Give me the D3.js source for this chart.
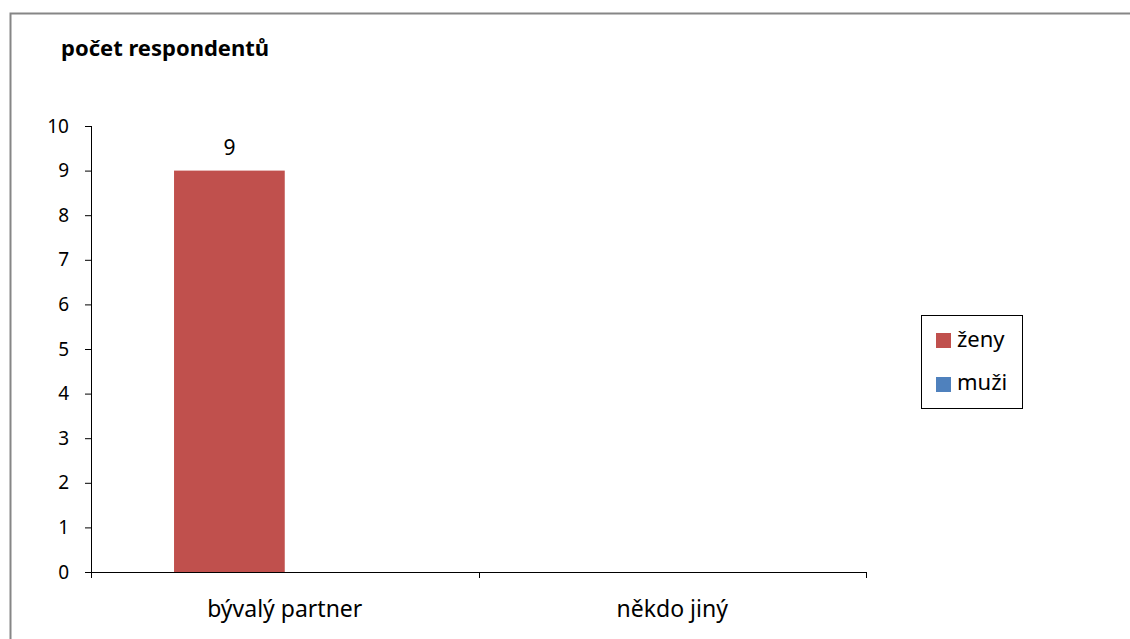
<!DOCTYPE html>
<html><head><meta charset="utf-8">
<script src="https://cdn.jsdelivr.net/npm/d3@7"></script>
<style>body{margin:0;background:#fff}svg{display:block}</style>
</head><body><svg id="c" width="1130" height="639" font-family="'Noto Sans',sans-serif"></svg>
<script>
const categories = ["bývalý partner", "někdo jiný"];
const seriesNames = ["ženy", "muži"];
const zeny = [9, 0];
const muzi = [0, 0];
const yTicks = [0,1,2,3,4,5,6,7,8,9,10];
const colors = ["#C0504D", "#4F81BD"];
const title = "počet respondentů";

const svg = d3.select("#c");
svg.append("rect").attr("x",10.5).attr("y",13.5).attr("width",1130).attr("height",700)
  .attr("fill","none").attr("stroke","#868686").attr("stroke-width",2);

const L=91, R=866, T=126, B=572;
const x = d3.scaleBand().domain(categories).range([L,R]);
const y = d3.scaleLinear().domain([0,10]).range([B,T]);
// Excel clustered bars, gap width 150%: bar = band/3.5
const bw = x.bandwidth()/3.5;
const offs = i => 0.75*bw + i*bw;

svg.append("text").attr("x",61).attr("y",56).attr("font-size",22).attr("font-weight","bold").text(title);

const series = [zeny, muzi];
series.forEach((vals,si)=>{
  svg.append("g").selectAll("rect").data(categories).join("rect")
    .attr("x",d=>x(d)+offs(si)).attr("width",bw)
    .attr("y",(d,i)=>y(vals[i])).attr("height",(d,i)=>B-y(vals[i]))
    .attr("fill",colors[si]);
});
// data label
svg.append("g").selectAll("text").data(categories.filter((d,i)=>zeny[i]>0)).join("text")
  .attr("x",d=>x(d)+offs(0)+bw/2).attr("y",d=>y(zeny[categories.indexOf(d)])-16)
  .attr("text-anchor","middle").attr("font-size",21).text(d=>zeny[categories.indexOf(d)]);

const ya = svg.append("g").attr("transform",`translate(${L},0)`)
  .call(d3.axisLeft(y).tickValues(yTicks).tickSize(6).tickPadding(16).tickFormat(d3.format("d")));
ya.attr("font-family",null).attr("font-size",null);
ya.selectAll("text").attr("font-size",19).attr("fill","#000");
ya.selectAll("line,path").attr("stroke","#000");
ya.select(".domain").attr("d",`M0.5,${T}V${B}`);

const xa = svg.append("g").attr("transform",`translate(0,${B})`)
  .call(d3.axisBottom(x).tickSize(0).tickPadding(29));
xa.attr("font-family",null).attr("font-size",null);
xa.select(".domain").attr("d",`M${L},0.5H${R}`).attr("stroke","#000");
xa.selectAll("text").attr("font-size",23).attr("fill","#000");
const bounds = [L, ...categories.slice(1).map(c=>x(c)), R];
xa.append("g").selectAll("line").data(bounds).join("line")
  .attr("x1",d=>Math.round(d)+0.5).attr("x2",d=>Math.round(d)+0.5).attr("y1",0).attr("y2",6).attr("stroke","#000");

const lg = svg.append("g");
lg.append("rect").attr("x",921.5).attr("y",315.5).attr("width",101).attr("height",93).attr("fill","#fff").attr("stroke","#000");
seriesNames.forEach((n,i)=>{
  lg.append("rect").attr("x",936).attr("y",333+i*44).attr("width",15).attr("height",15).attr("fill",colors[i]);
  lg.append("text").attr("x",957).attr("y",347+i*43).attr("font-size",22).text(n);
});
</script></body></html>
